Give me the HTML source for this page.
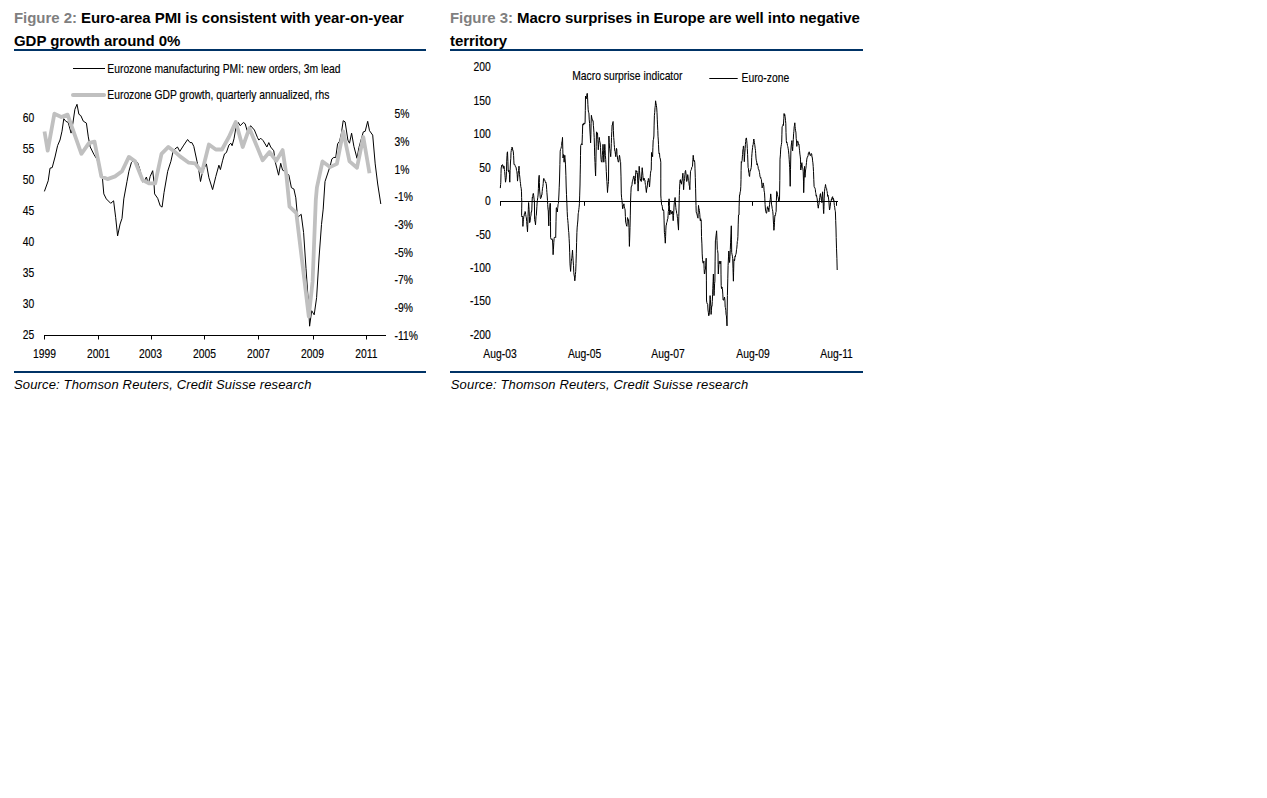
<!DOCTYPE html>
<html><head><meta charset="utf-8"><style>
html,body{margin:0;padding:0;background:#fff;}
body{width:1267px;height:798px;position:relative;overflow:hidden;font-family:"Liberation Sans",sans-serif;}
.title{position:absolute;font-weight:bold;font-size:15px;line-height:23px;letter-spacing:-0.05px;color:#000;white-space:nowrap;}
.title .fig{color:#7f7f7f;}
.rule{position:absolute;height:2px;background:#003366;}
.src{position:absolute;font-style:italic;font-size:13px;letter-spacing:0.15px;color:#000;white-space:nowrap;}
svg{position:absolute;left:0;top:0;}
svg text{font-family:"Liberation Sans",sans-serif;}
</style></head><body>
<div class="title" style="left:14px;top:6px">
<span class="fig">Figure 2:</span> Euro-area PMI is consistent with year-on-year<br>GDP growth around 0%</div>
<div class="rule" style="left:14px;top:49px;width:412px"></div>
<div class="title" style="left:450px;top:6px">
<span class="fig">Figure 3:</span> Macro surprises in Europe are well into negative<br>territory</div>
<div class="rule" style="left:450px;top:49px;width:413px"></div>
<div class="rule" style="left:14px;top:371px;width:412px"></div>
<div class="rule" style="left:450px;top:371px;width:413px"></div>
<div class="src" style="left:14px;top:376.5px">Source: Thomson Reuters, Credit Suisse research</div>
<div class="src" style="left:450.8px;top:376.5px">Source: Thomson Reuters, Credit Suisse research</div>
<svg width="1267" height="798" viewBox="0 0 1267 798">
<line x1="73" y1="68.5" x2="105" y2="68.5" stroke="#000" stroke-width="1"/>
<text transform="translate(107.3,72.8) scale(0.862,1)" text-anchor="start" font-size="12" fill="#000" stroke="#000" stroke-width="0.15">Eurozone manufacturing PMI: new orders, 3m lead</text>
<line x1="73" y1="95" x2="104" y2="95" stroke="#c0c0c0" stroke-width="4" stroke-linecap="round"/>
<text transform="translate(107.3,98.6) scale(0.862,1)" text-anchor="start" font-size="12" fill="#000" stroke="#000" stroke-width="0.15">Eurozone GDP growth, quarterly annualized, rhs</text>
<text transform="translate(34.3,122.2) scale(0.862,1)" text-anchor="end" font-size="12" fill="#000" stroke="#000" stroke-width="0.15">60</text>
<text transform="translate(34.3,153.20000000000002) scale(0.862,1)" text-anchor="end" font-size="12" fill="#000" stroke="#000" stroke-width="0.15">55</text>
<text transform="translate(34.3,184.20000000000002) scale(0.862,1)" text-anchor="end" font-size="12" fill="#000" stroke="#000" stroke-width="0.15">50</text>
<text transform="translate(34.3,215.20000000000002) scale(0.862,1)" text-anchor="end" font-size="12" fill="#000" stroke="#000" stroke-width="0.15">45</text>
<text transform="translate(34.3,246.20000000000002) scale(0.862,1)" text-anchor="end" font-size="12" fill="#000" stroke="#000" stroke-width="0.15">40</text>
<text transform="translate(34.3,277.2) scale(0.862,1)" text-anchor="end" font-size="12" fill="#000" stroke="#000" stroke-width="0.15">35</text>
<text transform="translate(34.3,308.2) scale(0.862,1)" text-anchor="end" font-size="12" fill="#000" stroke="#000" stroke-width="0.15">30</text>
<text transform="translate(34.3,339.2) scale(0.862,1)" text-anchor="end" font-size="12" fill="#000" stroke="#000" stroke-width="0.15">25</text>
<text transform="translate(394.6,118.1) scale(0.862,1)" text-anchor="start" font-size="12" fill="#000" stroke="#000" stroke-width="0.15">5%</text>
<text transform="translate(394.6,145.8) scale(0.862,1)" text-anchor="start" font-size="12" fill="#000" stroke="#000" stroke-width="0.15">3%</text>
<text transform="translate(394.6,173.5) scale(0.862,1)" text-anchor="start" font-size="12" fill="#000" stroke="#000" stroke-width="0.15">1%</text>
<text transform="translate(394.6,201.2) scale(0.862,1)" text-anchor="start" font-size="12" fill="#000" stroke="#000" stroke-width="0.15">-1%</text>
<text transform="translate(394.6,228.9) scale(0.862,1)" text-anchor="start" font-size="12" fill="#000" stroke="#000" stroke-width="0.15">-3%</text>
<text transform="translate(394.6,256.6) scale(0.862,1)" text-anchor="start" font-size="12" fill="#000" stroke="#000" stroke-width="0.15">-5%</text>
<text transform="translate(394.6,284.3) scale(0.862,1)" text-anchor="start" font-size="12" fill="#000" stroke="#000" stroke-width="0.15">-7%</text>
<text transform="translate(394.6,312.0) scale(0.862,1)" text-anchor="start" font-size="12" fill="#000" stroke="#000" stroke-width="0.15">-9%</text>
<text transform="translate(394.6,339.7) scale(0.862,1)" text-anchor="start" font-size="12" fill="#000" stroke="#000" stroke-width="0.15">-11%</text>
<line x1="44.5" y1="335.5" x2="386" y2="335.5" stroke="#000" stroke-width="1"/>
<line x1="44.5" y1="335" x2="44.5" y2="339.5" stroke="#000" stroke-width="1"/>
<text transform="translate(44.5,358) scale(0.862,1)" text-anchor="middle" font-size="12" fill="#000" stroke="#000" stroke-width="0.15">1999</text>
<line x1="98.5" y1="335" x2="98.5" y2="339.5" stroke="#000" stroke-width="1"/>
<text transform="translate(98.5,358) scale(0.862,1)" text-anchor="middle" font-size="12" fill="#000" stroke="#000" stroke-width="0.15">2001</text>
<line x1="151.5" y1="335" x2="151.5" y2="339.5" stroke="#000" stroke-width="1"/>
<text transform="translate(150.6,358) scale(0.862,1)" text-anchor="middle" font-size="12" fill="#000" stroke="#000" stroke-width="0.15">2003</text>
<line x1="204.5" y1="335" x2="204.5" y2="339.5" stroke="#000" stroke-width="1"/>
<text transform="translate(204.4,358) scale(0.862,1)" text-anchor="middle" font-size="12" fill="#000" stroke="#000" stroke-width="0.15">2005</text>
<line x1="258.5" y1="335" x2="258.5" y2="339.5" stroke="#000" stroke-width="1"/>
<text transform="translate(258.5,358) scale(0.862,1)" text-anchor="middle" font-size="12" fill="#000" stroke="#000" stroke-width="0.15">2007</text>
<line x1="313.5" y1="335" x2="313.5" y2="339.5" stroke="#000" stroke-width="1"/>
<text transform="translate(312.6,358) scale(0.862,1)" text-anchor="middle" font-size="12" fill="#000" stroke="#000" stroke-width="0.15">2009</text>
<line x1="366.5" y1="335" x2="366.5" y2="339.5" stroke="#000" stroke-width="1"/>
<text transform="translate(366.4,358) scale(0.862,1)" text-anchor="middle" font-size="12" fill="#000" stroke="#000" stroke-width="0.15">2011</text>
<polyline points="44.4,191.4 48.2,180.8 50.0,168.2 52.2,167.6 55.0,157.0 57.6,145.6 60.0,140.0 62.0,131.2 63.8,118.7 65.7,121.2 68.2,122.5 71.1,133.1 72.9,123.1 74.9,109.3 77.0,104.3 78.9,114.3 80.8,115.6 83.3,121.2 86.4,123.1 88.3,136.9 90.2,146.9 93.9,154.4 97.0,159.4 101.4,173.2 102.5,178.9 103.8,193.9 106.3,198.9 110.7,203.3 113.6,200.8 115.7,217.7 117.6,235.9 120.1,224.0 122.0,218.4 123.8,198.9 127.0,181.4 128.9,171.3 131.4,162.6 133.9,160.0 137.6,162.6 140.1,170.1 142.6,182.0 144.5,180.8 146.4,177.0 148.3,183.9 150.2,176.4 152.7,170.7 153.9,181.4 154.6,193.9 157.7,198.3 160.2,205.8 162.1,207.1 164.0,192.7 167.7,171.3 170.9,161.3 173.1,151.4 175.0,148.9 177.5,147.0 179.8,151.4 183.8,145.1 187.6,139.5 190.0,142.6 191.9,142.6 193.8,146.4 197.0,161.4 198.8,170.2 200.5,181.5 202.6,171.4 206.4,163.9 208.9,177.7 212.6,189.6 215.8,176.5 218.9,165.2 220.4,169.6 222.7,160.2 224.5,153.9 226.4,152.6 228.9,145.1 230.8,143.2 232.1,145.7 234.0,138.8 235.8,128.2 238.3,122.5 240.2,125.7 243.4,122.5 245.2,123.8 247.1,130.7 249.0,129.4 250.6,125.7 254.4,130.0 257.5,137.6 258.8,140.1 260.7,138.2 263.2,140.7 266.9,147.0 268.8,142.6 270.7,147.0 273.8,150.8 275.1,161.4 277.0,168.9 278.6,175.2 280.7,163.3 282.6,170.2 285.1,171.4 288.9,175.2 291.4,187.7 293.9,189.0 295.8,197.8 297.1,212.2 297.9,217.1 301.2,214.3 303.6,232.6 306.0,268.4 308.5,304.2 309.6,326.2 311.7,310.7 314.2,314.8 316.6,297.7 319.1,257.0 321.5,224.4 323.2,209.1 325.0,181.5 327.5,174.0 330.0,166.4 331.9,158.9 333.8,157.4 335.7,157.6 337.6,143.9 339.5,141.3 341.3,133.8 343.2,120.7 345.1,121.9 347.9,140.1 349.5,143.2 351.6,133.2 353.9,146.4 357.0,158.3 358.9,147.6 363.3,131.9 365.2,131.3 367.7,121.3 369.5,130.7 372.7,135.1 375.2,163.9 377.7,184.0 380.8,204.0" fill="none" stroke="#000" stroke-width="1" stroke-linejoin="round"/>
<polyline points="44.5,131.5 47.7,150.6 54.4,113.7 61.3,117.0 67.6,114.6 81.4,153.8 88.9,143.1 94.5,141.6 101.3,176.4 107.5,179.1 115.1,176.4 122.0,171.3 128.9,156.9 135.1,161.3 142.6,180.1 148.9,183.3 155.2,183.3 161.5,153.8 168.4,146.9 175.0,151.9 180.0,156.4 188.8,162.7 195.1,163.3 202.0,172.1 208.9,144.5 215.8,149.5 222.0,149.5 228.9,137.0 235.8,121.9 242.7,147.0 249.4,128.2 262.6,160.2 269.5,152.0 276.3,160.8 282.6,150.1 286.4,175.2 289.5,206.6 296.3,213.0 308.8,316.5 312.6,281.4 315.8,200.0 316.9,187.7 322.5,161.4 330.0,167.1 336.9,163.9 343.2,131.3 349.5,161.4 357.0,167.7 363.3,137.0 369.5,173.3" fill="none" stroke="#c0c0c0" stroke-width="3.8" stroke-linejoin="round" stroke-linecap="butt"/>
<text transform="translate(572.2,79.9) scale(0.862,1)" text-anchor="start" font-size="12" fill="#000" stroke="#000" stroke-width="0.15">Macro surprise indicator</text>
<line x1="709.3" y1="78.5" x2="737.7" y2="78.5" stroke="#000" stroke-width="1"/>
<text transform="translate(741.5,81.8) scale(0.862,1)" text-anchor="start" font-size="12" fill="#000" stroke="#000" stroke-width="0.15">Euro-zone</text>
<text transform="translate(490.7,71.3) scale(0.862,1)" text-anchor="end" font-size="12" fill="#000" stroke="#000" stroke-width="0.15">200</text>
<text transform="translate(490.7,104.75) scale(0.862,1)" text-anchor="end" font-size="12" fill="#000" stroke="#000" stroke-width="0.15">150</text>
<text transform="translate(490.7,138.20000000000002) scale(0.862,1)" text-anchor="end" font-size="12" fill="#000" stroke="#000" stroke-width="0.15">100</text>
<text transform="translate(490.7,171.65000000000003) scale(0.862,1)" text-anchor="end" font-size="12" fill="#000" stroke="#000" stroke-width="0.15">50</text>
<text transform="translate(490.7,205.10000000000002) scale(0.862,1)" text-anchor="end" font-size="12" fill="#000" stroke="#000" stroke-width="0.15">0</text>
<text transform="translate(490.7,238.55) scale(0.862,1)" text-anchor="end" font-size="12" fill="#000" stroke="#000" stroke-width="0.15">-50</text>
<text transform="translate(490.7,272.00000000000006) scale(0.862,1)" text-anchor="end" font-size="12" fill="#000" stroke="#000" stroke-width="0.15">-100</text>
<text transform="translate(490.7,305.45000000000005) scale(0.862,1)" text-anchor="end" font-size="12" fill="#000" stroke="#000" stroke-width="0.15">-150</text>
<text transform="translate(490.7,338.90000000000003) scale(0.862,1)" text-anchor="end" font-size="12" fill="#000" stroke="#000" stroke-width="0.15">-200</text>
<line x1="500" y1="201.5" x2="838" y2="201.5" stroke="#000" stroke-width="1"/>
<line x1="500.5" y1="201" x2="500.5" y2="205.8" stroke="#000" stroke-width="1"/>
<line x1="584.5" y1="201" x2="584.5" y2="205.8" stroke="#000" stroke-width="1"/>
<line x1="668.5" y1="201" x2="668.5" y2="205.8" stroke="#000" stroke-width="1"/>
<line x1="752.5" y1="201" x2="752.5" y2="205.8" stroke="#000" stroke-width="1"/>
<line x1="836.5" y1="201" x2="836.5" y2="205.8" stroke="#000" stroke-width="1"/>
<text transform="translate(500,358) scale(0.862,1)" text-anchor="middle" font-size="12" fill="#000" stroke="#000" stroke-width="0.15">Aug-03</text>
<text transform="translate(584.6,358) scale(0.862,1)" text-anchor="middle" font-size="12" fill="#000" stroke="#000" stroke-width="0.15">Aug-05</text>
<text transform="translate(668,358) scale(0.862,1)" text-anchor="middle" font-size="12" fill="#000" stroke="#000" stroke-width="0.15">Aug-07</text>
<text transform="translate(753,358) scale(0.862,1)" text-anchor="middle" font-size="12" fill="#000" stroke="#000" stroke-width="0.15">Aug-09</text>
<text transform="translate(836.6,358) scale(0.862,1)" text-anchor="middle" font-size="12" fill="#000" stroke="#000" stroke-width="0.15">Aug-11</text>
<polyline points="500.3,188.1 500.6,184.6 500.8,182.2 501.0,173.7 501.2,167.3 501.5,167.4 501.7,165.3 502.0,166.2 502.2,165.5 502.5,164.6 502.8,165.5 503.0,165.8 503.3,168.4 503.6,167.9 503.8,165.9 504.1,166.8 504.4,169.6 504.7,171.5 505.0,175.8 505.2,177.8 505.5,182.2 505.9,179.8 506.2,177.9 506.5,171.4 506.7,161.9 507.0,155.6 507.2,152.9 507.5,151.8 507.9,161.5 508.2,170.5 508.5,171.7 508.7,170.4 509.0,170.0 509.2,172.0 509.5,174.7 509.6,179.9 509.8,182.2 510.1,170.7 510.5,162.0 510.8,158.3 511.0,152.4 511.3,150.5 511.5,148.8 511.8,148.6 512.0,147.0 512.2,147.6 512.5,147.9 512.7,150.3 513.0,150.2 513.3,151.9 513.6,155.6 513.8,160.1 514.0,164.1 514.3,164.9 514.7,164.5 515.0,165.2 515.2,166.1 515.5,166.8 515.8,166.7 516.2,167.9 516.5,170.5 516.9,171.7 517.2,174.7 517.4,178.4 517.5,181.1 517.8,177.3 518.2,173.5 518.5,170.5 518.8,168.6 519.0,166.2 519.2,170.3 519.5,174.7 519.8,177.0 520.2,181.3 520.5,183.3 520.8,186.7 521.2,188.2 521.5,191.8 521.6,197.3 521.8,202.4 521.7,208.9 521.6,215.2 521.9,216.9 522.2,217.0 522.4,216.2 522.7,217.4 522.8,223.3 522.9,226.4 523.2,221.9 523.5,219.4 523.8,216.3 524.1,216.2 524.4,213.5 524.8,213.7 525.1,211.5 525.4,212.0 525.7,214.5 526.1,216.7 526.4,217.9 526.7,221.6 527.0,226.0 527.2,227.8 527.5,231.8 527.8,224.6 528.0,216.3 528.3,209.7 528.6,202.5 528.9,206.4 529.1,209.9 529.4,216.2 529.6,222.7 529.9,222.1 530.2,220.8 530.4,217.8 530.7,216.3 531.0,215.2 531.2,211.8 531.5,212.1 531.8,209.9 532.0,203.9 532.3,197.1 532.6,197.7 532.8,196.2 533.1,193.7 533.4,193.4 533.7,195.7 534.1,199.2 534.4,201.4 534.5,209.0 534.6,219.5 534.9,221.2 535.2,222.0 535.5,224.8 535.8,220.2 536.0,216.6 536.3,215.3 536.6,211.0 536.9,206.3 537.1,203.1 537.4,200.3 537.8,197.3 538.1,195.0 538.4,188.6 538.7,180.0 539.0,176.4 539.2,175.3 539.4,182.5 539.6,190.0 540.0,194.2 540.3,198.2 540.6,198.7 540.9,197.9 541.3,197.4 541.6,195.0 541.9,195.0 542.2,191.5 542.5,188.2 542.9,186.6 543.2,183.6 543.5,179.0 543.8,178.4 544.1,178.9 544.4,179.5 544.7,179.9 545.0,181.1 545.3,181.6 545.5,182.5 545.8,182.0 546.1,183.3 546.4,185.0 546.7,189.4 546.9,192.4 547.2,196.0 547.5,200.5 547.7,204.6 548.0,209.2 548.3,211.0 548.5,219.0 548.8,225.9 549.0,216.9 549.3,207.8 549.6,207.1 549.8,206.2 550.1,203.2 550.4,203.5 550.5,221.7 550.6,237.6 550.9,238.8 551.2,239.4 551.5,239.5 551.9,238.7 552.2,239.0 552.5,239.7 552.8,246.0 553.1,254.7 553.4,249.8 553.8,242.7 554.1,238.7 554.4,237.2 554.7,237.4 555.1,237.0 555.4,237.3 555.7,237.6 556.0,221.4 556.3,207.8 556.6,207.7 557.0,209.6 557.3,212.0 557.6,208.7 557.8,207.3 558.1,204.2 558.4,203.5 558.6,200.4 558.9,195.0 559.2,187.8 559.5,180.0 559.9,164.6 560.2,151.3 560.5,149.5 560.8,148.7 561.1,148.1 561.4,146.4 561.6,145.6 561.9,141.7 562.2,141.2 562.5,137.4 562.8,149.2 563.0,158.0 563.3,156.1 563.6,154.5 563.9,158.3 564.1,162.2 564.5,157.5 564.8,155.3 565.1,158.9 565.5,164.9 565.9,175.5 566.2,187.0 566.5,194.7 566.9,203.8 567.2,211.7 567.5,217.6 567.8,220.3 568.1,223.7 568.5,230.2 568.8,232.6 569.1,238.3 569.4,243.9 569.7,252.8 570.0,263.9 570.3,267.8 570.6,271.4 571.0,265.0 571.3,261.4 571.6,258.7 571.9,257.2 572.2,254.0 572.5,250.1 572.8,255.7 573.1,260.1 573.5,265.7 573.8,272.7 574.1,275.0 574.5,277.1 574.8,280.8 575.1,278.5 575.4,274.6 575.7,271.4 576.0,263.5 576.3,253.9 576.6,242.7 576.9,232.6 577.2,227.1 577.5,224.1 577.9,220.0 578.2,213.8 578.5,212.4 578.8,209.7 579.1,207.3 579.4,203.8 579.7,195.1 580.0,185.0 580.2,174.1 580.4,164.9 580.5,155.3 580.7,145.6 581.0,145.0 581.4,143.9 581.7,143.7 582.0,145.0 582.4,134.3 582.7,125.0 583.0,123.9 583.3,124.7 583.5,125.1 583.8,123.2 584.1,122.9 584.4,124.0 584.8,123.9 585.1,122.2 585.3,110.5 585.5,96.0 585.9,97.0 586.2,98.8 586.5,96.6 586.8,95.2 587.0,93.8 587.3,93.3 587.6,97.9 587.9,104.7 588.2,109.8 588.5,112.4 588.9,112.6 589.2,119.1 589.6,123.6 589.9,130.0 590.3,136.9 590.6,142.9 590.9,134.6 591.1,123.3 591.4,115.3 591.7,117.1 592.1,119.3 592.4,119.4 592.8,120.9 593.1,120.8 593.4,125.7 593.7,129.0 593.9,132.3 594.2,137.4 594.5,147.9 594.7,156.7 595.0,162.6 595.3,170.4 595.6,175.9 595.9,162.6 596.2,146.3 596.5,131.9 596.8,132.0 597.2,134.1 597.5,133.2 597.8,139.4 598.0,143.3 598.3,149.8 598.6,144.5 599.0,140.5 599.3,137.4 599.6,140.4 599.9,142.0 600.2,142.9 600.5,147.3 600.8,154.9 601.1,159.4 601.4,161.8 601.7,161.7 602.0,162.2 602.3,155.8 602.7,150.4 603.0,144.3 603.3,149.2 603.5,154.8 603.8,162.2 604.1,157.6 604.5,150.7 604.8,144.3 605.1,149.4 605.4,155.7 605.7,159.4 606.0,164.7 606.3,171.6 606.6,177.0 606.9,181.5 607.2,186.1 607.5,192.5 607.8,188.1 608.2,184.5 608.5,181.5 608.7,158.0 608.9,136.0 609.2,142.5 609.6,148.4 609.9,149.8 610.2,152.3 610.4,153.5 610.7,156.7 611.0,151.6 611.3,143.6 611.5,137.6 611.8,131.6 612.1,125.0 612.4,125.0 612.8,122.4 613.1,121.5 613.4,130.7 613.7,137.4 614.0,140.8 614.2,144.3 614.5,147.7 614.8,151.1 615.1,151.5 615.5,154.7 615.8,156.7 616.1,151.6 616.5,148.4 616.8,149.7 617.0,154.8 617.3,155.7 617.6,159.4 617.9,160.3 618.3,161.9 618.6,162.2 618.9,160.1 619.2,157.1 619.5,155.3 619.8,157.1 620.0,158.9 620.3,161.3 620.6,162.2 621.0,176.9 621.3,193.9 621.6,197.8 622.0,200.6 622.3,204.4 622.6,208.8 622.9,208.4 623.2,206.3 623.6,205.2 623.9,203.8 624.2,206.1 624.5,208.1 624.8,208.3 625.1,210.0 625.4,216.6 625.7,222.6 626.0,223.5 626.3,224.5 626.6,226.0 626.9,226.3 627.2,221.8 627.5,217.6 627.8,218.5 628.2,219.1 628.5,220.0 628.8,225.1 629.0,227.6 629.2,237.6 629.4,246.4 629.7,238.1 630.0,227.6 630.3,215.1 630.6,200.0 630.9,192.8 631.2,187.0 631.5,186.1 631.8,186.1 632.0,184.7 632.3,181.5 632.6,181.5 632.9,179.2 633.2,179.1 633.4,176.9 633.7,176.2 634.0,175.9 634.3,177.4 634.6,181.9 634.9,184.2 635.2,181.6 635.5,178.5 635.7,172.8 636.0,170.4 636.3,171.6 636.6,172.0 636.8,171.0 637.1,173.8 637.4,173.2 637.8,183.6 638.1,191.1 638.4,184.1 638.7,180.1 638.9,172.2 639.2,166.3 639.5,170.4 639.9,176.0 640.2,178.7 640.5,180.4 640.8,179.1 641.0,180.6 641.3,181.5 641.6,176.9 641.9,171.8 642.2,167.7 642.5,170.9 642.9,175.4 643.2,180.1 643.5,180.4 643.8,178.0 644.0,179.2 644.3,178.7 644.6,179.9 644.9,180.0 645.1,182.3 645.4,184.6 645.7,185.6 646.0,189.1 646.4,192.5 646.7,188.4 647.0,188.5 647.4,185.1 647.7,181.5 648.0,182.0 648.4,178.4 648.7,178.7 649.0,180.8 649.2,182.9 649.5,187.0 649.8,183.2 650.2,177.1 650.5,173.2 650.9,170.7 651.2,170.4 651.4,161.2 651.5,152.5 651.8,154.8 652.0,155.6 652.3,154.9 652.6,156.7 652.9,147.3 653.2,140.1 653.5,139.3 653.9,136.0 654.1,125.9 654.4,115.3 654.7,112.7 655.0,107.7 655.3,105.7 655.5,101.9 655.6,100.8 655.9,103.0 656.1,103.8 656.4,105.7 656.7,107.9 657.0,112.6 657.3,119.9 657.5,124.9 657.8,130.5 658.0,136.2 658.3,140.1 658.5,144.4 658.8,151.1 659.1,153.9 659.5,153.2 659.8,157.4 660.1,158.0 660.5,160.0 660.8,162.2 660.8,178.1 660.8,195.0 661.0,198.3 661.3,201.3 661.6,204.8 662.0,205.0 662.3,206.7 662.6,210.0 662.9,210.4 663.2,209.9 663.5,209.8 663.8,211.3 664.1,220.9 664.4,232.6 664.7,234.8 665.0,238.8 665.3,243.2 665.6,236.6 665.8,230.5 666.1,225.1 666.4,225.0 666.6,222.8 666.9,222.6 667.2,221.3 667.5,219.1 667.8,218.8 668.1,215.4 668.3,211.5 668.6,210.0 668.9,203.7 669.1,198.8 669.4,205.4 669.6,215.0 669.9,214.4 670.2,212.7 670.4,210.3 670.7,210.0 671.0,211.2 671.3,213.8 671.6,213.8 671.9,211.8 672.3,213.1 672.6,211.3 672.9,215.8 673.2,220.7 673.5,215.5 673.8,211.2 674.1,205.0 674.4,202.2 674.8,200.0 675.1,197.5 675.4,202.2 675.8,207.3 676.1,210.0 676.4,210.8 676.7,213.5 677.0,213.8 677.3,216.9 677.6,218.8 677.9,223.0 678.2,226.0 678.5,230.1 678.8,216.5 679.1,203.8 679.3,195.4 679.5,189.7 679.8,183.8 680.1,180.1 680.4,179.6 680.7,182.5 680.9,181.8 681.2,182.4 681.5,184.2 681.8,180.8 682.1,180.8 682.3,178.7 682.6,175.9 682.9,173.2 683.2,180.8 683.6,189.7 683.9,185.2 684.2,181.5 684.6,178.3 684.9,174.6 685.2,171.5 685.6,170.4 685.9,173.0 686.2,175.2 686.4,180.1 686.7,181.5 687.0,180.6 687.4,177.0 687.7,174.6 688.0,176.1 688.4,180.6 688.7,181.5 689.0,183.0 689.2,185.2 689.5,186.2 689.8,189.7 690.1,180.1 690.5,171.3 690.8,170.5 691.2,169.8 691.5,169.1 691.8,167.2 692.1,167.0 692.3,166.7 692.5,166.3 692.9,159.3 693.2,155.3 693.5,157.3 693.7,160.7 694.0,160.0 694.2,161.4 694.5,160.9 694.8,162.8 695.0,168.8 695.3,177.7 695.6,188.8 695.9,201.1 696.0,205.6 696.2,211.8 696.5,213.1 696.9,213.9 697.2,215.1 697.5,216.8 697.7,217.6 698.0,218.2 698.2,212.4 698.5,205.4 698.8,208.3 699.1,208.6 699.4,210.7 699.8,214.5 700.1,219.3 700.4,221.0 700.7,218.7 700.9,220.7 701.2,220.3 701.4,228.9 701.5,236.6 701.9,243.9 702.2,253.9 702.5,259.2 702.9,262.5 703.2,263.2 703.6,261.9 703.9,261.1 704.1,268.3 704.4,274.0 704.7,273.5 705.1,270.1 705.4,269.7 705.7,265.9 705.9,262.0 706.2,258.2 706.4,280.1 706.5,300.0 706.8,302.5 707.1,303.7 707.4,303.6 707.7,304.3 708.0,310.0 708.4,312.8 708.7,315.8 709.0,315.3 709.4,312.9 709.8,303.0 710.1,295.6 710.4,299.6 710.8,306.4 711.1,314.4 711.4,310.5 711.7,306.0 712.0,306.3 712.3,301.4 712.6,294.8 712.8,288.3 713.1,281.5 713.4,274.0 713.7,285.7 714.0,295.6 714.3,290.7 714.6,283.6 714.9,281.2 715.1,261.9 715.4,240.9 715.7,239.1 716.0,235.9 716.3,233.4 716.6,230.8 717.0,240.7 717.3,249.6 717.6,250.4 718.0,253.9 718.1,264.7 718.3,274.0 718.6,269.0 718.9,264.1 719.2,261.1 719.5,261.4 719.9,263.7 720.2,264.0 720.5,261.7 720.9,261.1 721.0,274.1 721.2,285.6 721.5,288.6 721.8,287.0 722.1,287.1 722.4,288.4 722.8,294.1 723.1,300.0 723.4,300.3 723.7,300.1 723.9,298.8 724.2,298.4 724.5,297.1 724.9,300.1 725.2,307.2 725.5,307.7 725.8,310.3 726.1,314.8 726.4,315.8 726.7,319.9 727.0,325.9 727.2,311.1 727.4,295.6 727.8,278.2 728.1,265.4 728.5,256.9 728.8,251.0 729.1,254.1 729.3,259.2 729.6,262.5 730.0,256.6 730.3,249.6 730.6,242.2 731.0,233.1 731.3,225.8 731.5,239.1 731.7,252.4 732.0,254.2 732.4,256.2 732.7,258.2 733.0,268.6 733.4,281.2 733.6,272.3 733.9,261.1 734.2,259.3 734.5,260.8 734.7,259.8 735.0,256.2 735.3,256.8 735.6,254.9 735.9,254.3 736.2,253.0 736.5,249.7 736.8,248.1 737.1,244.5 737.3,241.5 737.6,240.8 737.9,236.6 738.2,224.9 738.5,215.0 738.8,215.2 739.0,215.0 739.1,206.9 739.3,201.0 739.4,198.1 739.5,195.0 739.8,195.2 740.2,191.5 740.5,191.4 740.8,186.4 741.0,179.5 741.1,170.6 741.3,161.7 741.6,162.5 741.8,161.5 742.1,160.5 742.4,156.1 742.6,154.6 742.9,149.8 743.2,148.6 743.4,146.0 743.7,146.2 744.0,152.5 744.3,161.7 744.6,156.9 744.9,152.1 745.2,148.4 745.4,144.4 745.7,141.4 746.0,138.6 746.4,137.9 746.7,140.4 747.0,143.8 747.3,148.6 747.6,154.5 747.9,162.1 748.1,167.6 748.4,168.1 748.7,172.4 749.0,173.6 749.3,176.1 749.6,176.5 749.9,172.1 750.2,170.0 750.5,170.5 750.9,169.0 751.2,167.6 751.5,164.0 751.7,157.4 752.0,153.3 752.3,150.1 752.6,147.4 752.9,145.0 753.2,144.5 753.5,141.3 753.8,139.0 754.1,140.4 754.4,142.6 754.7,144.4 754.9,145.9 755.2,148.6 755.5,150.4 755.7,153.7 756.0,158.1 756.3,160.7 756.5,160.7 756.8,162.9 757.1,165.0 757.3,163.7 757.6,165.2 758.0,166.3 758.3,168.8 758.6,169.6 758.9,169.5 759.2,171.2 759.5,172.6 759.8,174.8 760.1,176.9 760.4,177.5 760.7,177.1 761.0,179.2 761.4,179.5 761.8,184.1 762.1,188.0 762.4,187.5 762.8,185.9 763.1,182.9 763.5,184.7 763.8,186.3 764.1,190.9 764.5,192.8 764.8,198.1 765.1,204.7 765.5,210.0 765.8,211.0 766.2,213.0 766.5,213.3 766.8,212.1 767.1,209.3 767.4,206.9 767.7,206.6 768.0,209.2 768.3,208.0 768.6,210.3 768.9,211.7 769.2,207.8 769.6,204.3 769.9,201.5 770.2,199.7 770.4,197.9 770.7,193.9 771.0,196.8 771.3,201.7 771.6,204.9 771.9,206.0 772.2,208.5 772.5,209.7 772.8,211.7 773.1,215.4 773.3,220.0 773.6,224.8 773.9,230.3 774.2,227.7 774.5,222.6 774.7,218.0 775.0,215.0 775.3,215.4 775.5,214.8 775.8,212.4 776.1,211.7 776.4,200.5 776.7,191.4 777.0,191.7 777.2,192.7 777.5,194.7 777.8,196.4 778.1,196.9 778.4,199.0 778.7,201.5 779.0,200.2 779.2,200.6 779.5,199.8 779.8,180.7 780.0,159.2 780.4,154.9 780.7,149.1 781.0,146.6 781.4,144.3 781.7,142.3 781.9,134.8 782.1,127.1 782.4,126.3 782.8,125.8 783.1,124.5 783.4,125.4 783.8,118.8 784.1,113.5 784.4,116.0 784.8,114.6 785.1,116.9 785.5,120.3 785.8,123.7 786.0,132.5 786.3,140.6 786.6,143.0 786.9,142.3 787.2,143.7 787.5,145.7 787.8,146.6 788.2,148.8 788.5,150.8 788.9,154.8 789.2,159.2 789.5,164.8 789.7,167.7 790.0,178.0 790.2,186.3 790.5,169.7 790.9,150.8 791.2,146.0 791.6,142.6 791.9,140.6 792.2,146.3 792.6,150.8 792.9,146.3 793.3,139.4 793.6,133.8 793.9,131.3 794.2,126.8 794.5,125.2 794.8,122.8 795.1,126.4 795.3,128.4 795.6,130.8 795.9,132.1 796.2,138.3 796.5,140.9 796.8,146.4 797.1,143.4 797.4,141.7 797.7,140.9 798.0,141.9 798.4,143.2 798.7,144.9 799.0,144.5 799.3,148.1 799.6,150.8 799.9,154.1 800.2,156.1 800.5,159.1 800.6,164.7 800.8,170.0 801.1,166.8 801.3,167.2 801.6,163.7 801.9,162.7 802.2,166.2 802.5,167.7 802.9,168.9 803.2,171.8 803.5,181.1 803.7,192.7 804.0,183.2 804.2,175.6 804.5,166.4 804.8,172.4 805.0,177.3 805.3,173.1 805.6,169.9 805.9,168.2 806.2,165.2 806.5,162.4 806.8,159.1 807.1,157.9 807.5,156.5 807.8,156.7 808.1,155.5 808.4,153.1 808.7,153.1 808.9,152.6 809.2,151.8 809.5,154.1 809.9,154.1 810.2,155.7 810.5,155.5 810.8,154.8 811.1,153.4 811.4,153.6 811.7,154.1 812.0,157.4 812.3,157.3 812.6,160.9 812.9,162.8 813.2,166.4 813.5,171.6 813.8,179.7 814.1,186.4 814.4,187.5 814.7,187.4 815.0,188.2 815.3,189.3 815.6,192.3 815.9,193.6 816.2,196.1 816.5,195.2 816.8,197.3 817.1,198.1 817.4,201.2 817.7,203.6 818.0,206.6 818.3,208.2 818.6,205.0 818.9,204.5 819.2,202.1 819.5,199.1 819.8,197.3 820.2,194.5 820.5,193.6 820.8,196.8 821.1,196.7 821.3,200.0 821.6,200.1 821.9,202.7 822.2,196.4 822.6,191.8 822.9,198.0 823.2,202.1 823.4,209.5 823.7,213.6 824.0,206.3 824.2,198.1 824.5,191.8 824.8,188.5 825.2,186.7 825.5,184.5 825.8,186.2 826.0,188.3 826.3,188.2 826.6,188.5 826.8,190.6 827.1,191.4 827.4,193.6 827.7,196.4 828.0,195.3 828.3,196.4 828.6,199.1 828.9,201.4 829.2,206.0 829.5,210.0 829.8,208.8 830.2,206.3 830.5,202.7 830.8,202.2 831.1,201.8 831.4,199.1 831.7,199.8 832.0,197.4 832.3,197.3 832.6,196.7 832.9,199.2 833.2,198.2 833.5,200.4 833.8,199.8 834.1,202.7 834.4,205.6 834.7,207.2 835.0,210.0 835.2,210.5 835.4,211.8 835.7,220.4 836.0,229.0 836.2,237.6 836.5,248.2 836.9,258.4 837.2,270.0" fill="none" stroke="#000" stroke-width="1" stroke-linejoin="miter"/>
</svg>
</body></html>
